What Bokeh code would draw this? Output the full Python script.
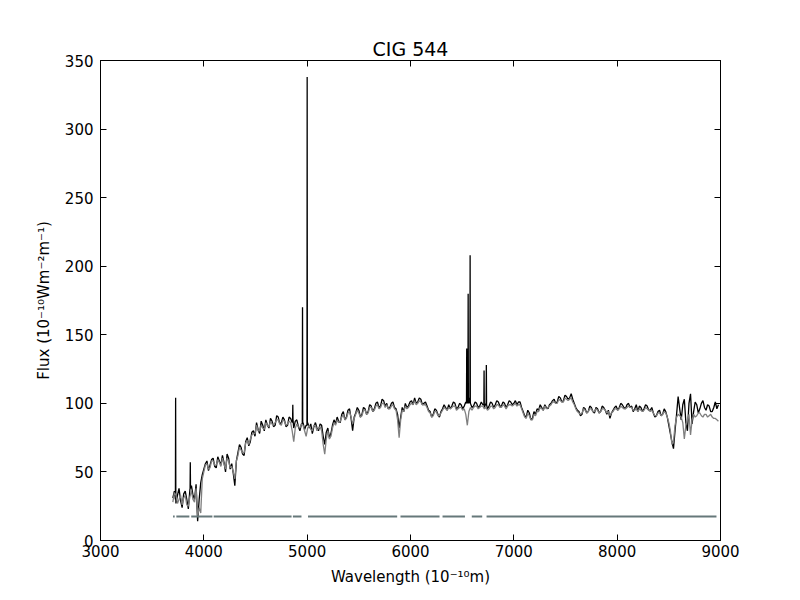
import numpy as np
from bokeh.plotting import figure
from bokeh.models import Range1d, FixedTicker, LinearAxis
from bokeh.embed import file_html
from bokeh.resources import INLINE

# ---------------- data ----------------
TITLE = "CIG 544"
X_LABEL = "Wavelength (10⁻¹⁰m)"
Y_LABEL = "Flux (10⁻¹⁰Wm⁻²m⁻¹)"
X_TICKS = [3000, 4000, 5000, 6000, 7000, 8000, 9000]
Y_TICKS = [0, 50, 100, 150, 200, 250, 300, 350]

# sampling of the continuum (Angstrom)
WL_START = 3700
WL_STEP = 15

# observed spectrum (black), continuum samples (one row = 300 Angstrom)
obs_flux = [
    31, 36, 27, 33, 38, 29, 24, 34, 36, 30, 23, 37, 40, 33, 30, 41, 14, 30, 42, 48,
    52, 56, 58, 51, 55, 59, 60, 54, 53, 61, 58, 55, 62, 57, 50, 63, 60, 52, 56, 49,
    40, 58, 64, 70, 68, 63, 62, 72, 75, 69, 72, 79, 80, 76, 86, 81, 78, 87, 84, 80,
    88, 84, 82, 89, 87, 83, 84, 91, 90, 85, 86, 90, 88, 83, 84, 90, 89, 86, 82, 87,
    88, 83, 80, 85, 86, 81, 84, 86, 82, 85, 78, 83, 86, 82, 80, 85, 84, 76, 70, 79,
    82, 75, 78, 84, 88, 85, 90, 87, 86, 92, 94, 88, 90, 95, 96, 89, 80, 90, 93, 97,
    95, 90, 92, 97, 96, 92, 94, 99, 98, 94, 96, 100, 101, 97, 98, 103, 102, 98, 100, 96,
    97, 100, 101, 97, 96, 92, 82, 90, 97, 94, 100, 97, 98, 101, 102, 99, 104, 100, 101, 104,
    103, 99, 100, 101, 98, 95, 94, 90, 92, 96, 95, 92, 90, 94, 96, 99, 97, 95, 99, 96,
    98, 101, 100, 96, 97, 100, 99, 96, 98, 101, 102, 104, 100, 97, 98, 101, 100, 97, 98, 101,
    99, 97, 100, 96, 98, 101, 100, 97, 99, 102, 101, 98, 98, 101, 100, 97, 99, 102, 101, 99,
    100, 102, 99, 101, 101, 97, 94, 91, 90, 95, 93, 88, 89, 94, 92, 96, 95, 99, 97, 95,
    99, 97, 96, 99, 100, 102, 103, 100, 101, 105, 104, 101, 102, 106, 105, 103, 104, 107, 103, 100,
    97, 95, 94, 91, 92, 97, 96, 93, 94, 98, 97, 94, 93, 97, 96, 93, 94, 98, 97, 95,
    92, 95, 89, 93, 95, 97, 98, 95, 97, 100, 99, 97, 96, 99, 100, 97, 98, 94, 96, 99,
    94, 98, 97, 94, 96, 99, 98, 95, 95, 97, 93, 90, 91, 94, 95, 91, 92, 96, 94, 90,
    84, 78, 72, 67, 80, 92, 105, 96, 88, 99, 103, 86, 80, 100, 107, 85, 94, 101, 99, 93,
    96, 100, 102, 97, 95, 99, 98, 94, 94, 97, 101, 96, 99,
]

# fitted model spectrum (grey)
model_flux = [
    28, 35, 33, 27, 30, 33, 26, 31, 33, 26, 25, 32, 36, 30, 28, 38, 18, 24, 20, 45,
    50, 55, 56, 52, 53, 58, 58, 55, 55, 59, 57, 54, 60, 56, 52, 60, 58, 53, 54, 50,
    45, 58, 62, 68, 66, 64, 64, 71, 73, 70, 74, 77, 78, 78, 84, 80, 80, 84, 82, 81,
    86, 84, 83, 87, 85, 84, 86, 88, 88, 85, 84, 88, 87, 84, 85, 87, 86, 80, 72, 82,
    85, 83, 82, 85, 84, 80, 76, 82, 84, 81, 80, 84, 84, 80, 82, 83, 80, 70, 63, 74,
    80, 74, 76, 82, 86, 84, 88, 86, 87, 90, 92, 88, 89, 93, 94, 90, 85, 89, 92, 95,
    93, 90, 91, 95, 95, 92, 93, 97, 97, 94, 95, 98, 99, 96, 97, 100, 100, 97, 99, 96,
    96, 98, 99, 96, 95, 88, 75, 88, 95, 94, 98, 96, 97, 99, 100, 99, 102, 99, 100, 102,
    101, 99, 99, 99, 97, 94, 93, 90, 91, 94, 94, 91, 91, 93, 95, 97, 96, 95, 97, 96,
    97, 98, 98, 95, 96, 97, 97, 95, 96, 92, 84, 94, 97, 95, 97, 98, 98, 96, 97, 98,
    98, 96, 97, 95, 96, 98, 98, 96, 97, 99, 99, 97, 97, 99, 98, 96, 98, 99, 99, 98,
    99, 100, 98, 99, 99, 96, 93, 90, 89, 93, 91, 88, 88, 92, 91, 94, 94, 97, 96, 95,
    98, 96, 97, 98, 99, 101, 101, 100, 100, 103, 102, 101, 101, 104, 103, 102, 103, 104, 101, 99,
    96, 94, 93, 92, 93, 96, 95, 93, 94, 96, 96, 94, 94, 96, 95, 93, 94, 96, 96, 95,
    93, 94, 91, 93, 94, 96, 96, 95, 96, 98, 97, 96, 96, 97, 98, 97, 97, 95, 95, 96,
    94, 96, 95, 94, 95, 97, 96, 95, 94, 95, 93, 91, 91, 93, 93, 91, 92, 94, 93, 90,
    86, 80, 70, 72, 84, 90, 92, 91, 90, 86, 74, 84, 88, 92, 77, 88, 92, 90, 91, 93,
    93, 91, 90, 92, 92, 90, 91, 92, 90, 89, 89, 88, 87,
]

# emission lines in the observed spectrum
em_wl = [3727, 3869, 4861, 4955, 5000, 6544, 6558, 6577, 6712, 6734]
em_peak = [104, 57, 99, 170, 338, 140, 180, 208, 124, 128]
em_base = [30, 38, 88, 85, 84, 100, 100, 100, 99, 99]

# pixel mask (good-pixel segments)
mask_start = [3702, 3734, 3878, 4095, 4862, 5008, 5903, 6310, 6593, 6736]
mask_end = [3718, 3860, 4083, 4849, 4945, 5871, 6281, 6527, 6694, 8961]
MASK_LEVEL = 17.5

# ---------------- build series ----------------
wl = WL_START + WL_STEP * np.arange(len(obs_flux))
HALF = 2  # half width of an emission spike drawn in Angstrom
ex, ey = [], []
for w, pk, b in zip(em_wl, em_peak, em_base):
    ex += [w - HALF, w, w + HALF]
    ey += [b, pk, b]
obs_x = np.concatenate([wl, ex])
obs_y = np.concatenate([np.array(obs_flux, float), np.array(ey, float)])
order = np.argsort(obs_x, kind="stable")
obs_x, obs_y = obs_x[order], obs_y[order]

# ---------------- figure ----------------
p = figure(frame_width=620, frame_height=480,
           x_range=Range1d(3000, 9000), y_range=Range1d(0, 350),
           output_backend="svg", toolbar_location=None,
           min_border_left=100, min_border_right=80,
           min_border_top=60, min_border_bottom=60,
           background_fill_color="white", border_fill_color="white")
p.outline_line_color = "black"
p.outline_line_width = 1
p.xgrid.visible = False
p.ygrid.visible = False

p.title.text = TITLE
p.title.align = "center"
p.title.text_font = "DejaVu Sans"
p.title.text_font_size = "19px"
p.title.text_font_style = "normal"
p.title.text_color = "black"
p.title.standoff = 2

p.line(obs_x, obs_y, line_color="black", line_width=1.3)
p.line(wl, model_flux, line_color="#7f7f7f", line_width=1.3)
p.segment(x0=mask_start, y0=[MASK_LEVEL] * len(mask_start),
          x1=mask_end, y1=[MASK_LEVEL] * len(mask_end),
          line_color="#66787a", line_width=2)

bottom_ax = p.below[0]
left_ax = p.left[0]
right_ax = LinearAxis(major_label_text_font_size="0px")
above_ax = LinearAxis(major_label_text_font_size="0px")
p.add_layout(right_ax, "right")
p.add_layout(above_ax, "above")

for ax in (bottom_ax, above_ax):
    ax.ticker = FixedTicker(ticks=X_TICKS)
for ax in (left_ax, right_ax):
    ax.ticker = FixedTicker(ticks=Y_TICKS)

for ax in (bottom_ax, left_ax, right_ax, above_ax):
    ax.major_tick_in = 6
    ax.major_tick_out = 0
    ax.minor_tick_in = 0
    ax.minor_tick_out = 0
    ax.axis_line_color = "black"
    ax.major_tick_line_color = "black"
    ax.major_label_text_font = "DejaVu Sans"
    ax.major_label_text_color = "black"

for ax in (bottom_ax, left_ax):
    ax.major_label_text_font_size = "15px"
    ax.axis_label_text_font = "DejaVu Sans"
    ax.axis_label_text_font_size = "15px"
    ax.axis_label_text_font_style = "normal"
    ax.axis_label_text_color = "black"

right_ax.major_label_text_color = None
above_ax.major_label_text_color = None
right_ax.major_label_standoff = 0
above_ax.major_label_standoff = 0

bottom_ax.axis_label = X_LABEL
left_ax.axis_label = Y_LABEL
bottom_ax.major_label_standoff = 4
left_ax.major_label_standoff = 7
bottom_ax.axis_label_standoff = 8
left_ax.axis_label_standoff = 9

open("out.html", "w").write(file_html(p, INLINE))
